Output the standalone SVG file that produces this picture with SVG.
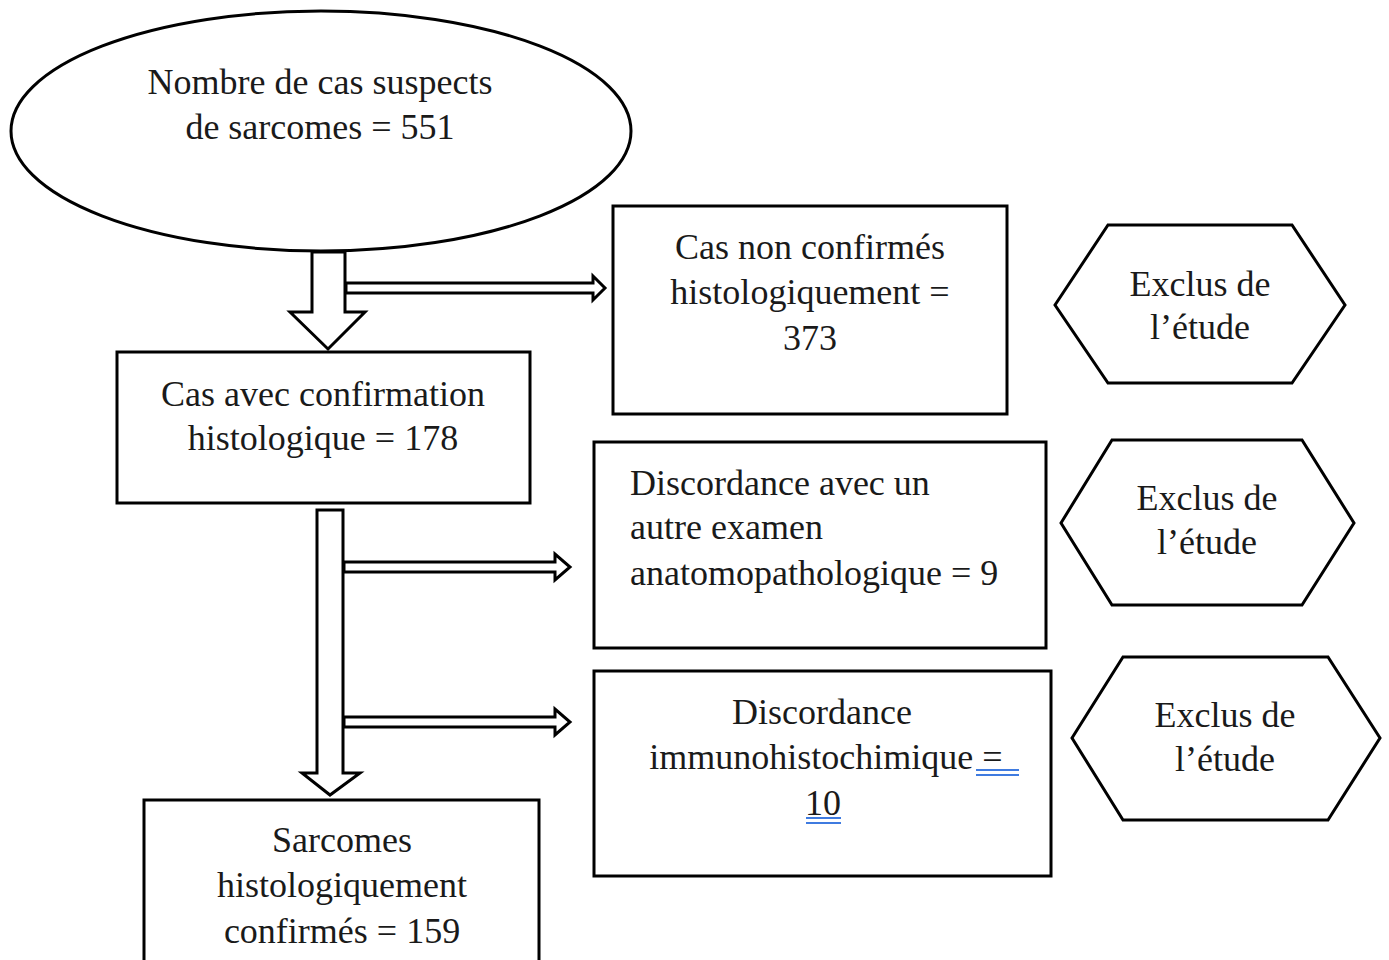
<svg xmlns="http://www.w3.org/2000/svg" width="1389" height="960" viewBox="0 0 1389 960">
<style>
.shape{fill:#fff;stroke:#000;stroke-width:3}
.arr{fill:#fff;stroke:#000;stroke-width:3;stroke-linejoin:miter}
text{font-family:"Liberation Serif","Times New Roman",serif;font-size:36px;fill:#1a1a1a}
.c{text-anchor:middle}
.ul{stroke:#3f7be0;stroke-width:2}
</style>
<rect width="1389" height="960" fill="#fff"/>
<g id="connectors">
<polygon class="arr" points="312,252 345,252 345,312 365,312 328,349 290,312 312,312"/>
<polygon class="arr" points="346,283 593,283 593,276 605,288 593,300 593,293 346,293"/>
<polygon class="arr" points="317,510 343,510 343,773 360,773 330,795 302,773 317,773"/>
<polygon class="arr" points="344,562 555,562 555,554 570,567 555,580 555,572 344,572"/>
<polygon class="arr" points="344,717 555,717 555,709 570,722 555,735 555,727 344,727"/>
</g>
<g id="n_suspects">
<ellipse class="shape" cx="321" cy="131" rx="310" ry="120"/>
<text class="c" x="320" y="94">Nombre de cas suspects</text>
<text class="c" x="320" y="139">de sarcomes = 551</text>
</g>
<g id="n_confirmation">
<rect class="shape" x="117" y="352" width="413" height="151"/>
<text class="c" x="323" y="406">Cas avec confirmation</text>
<text class="c" x="323" y="450">histologique = 178</text>
</g>
<g id="n_nonconfirmes">
<rect class="shape" x="613" y="206" width="394" height="208"/>
<text class="c" x="810" y="259">Cas non confirmés</text>
<text class="c" x="810" y="304">histologiquement =</text>
<text class="c" x="810" y="350">373</text>
</g>
<g id="n_exclus1">
<polygon class="shape" points="1055,305 1108,225 1292,225 1345,305 1292,383 1108,383"/>
<text class="c" x="1200" y="296">Exclus de</text>
<text class="c" x="1200" y="339">l’étude</text>
</g>
<g id="n_discordance_anapath">
<rect class="shape" x="594" y="442" width="452" height="206"/>
<text x="630" y="495">Discordance avec un</text>
<text x="630" y="539">autre examen</text>
<text x="630" y="585">anatomopathologique = 9</text>
</g>
<g id="n_exclus2">
<polygon class="shape" points="1061,523 1112,440 1302,440 1354,523 1302,605 1112,605"/>
<text class="c" x="1207" y="510">Exclus de</text>
<text class="c" x="1207" y="554">l’étude</text>
</g>
<g id="n_discordance_ihc">
<rect class="shape" x="594" y="671" width="457" height="205"/>
<text class="c" x="822" y="724">Discordance</text>
<text class="c" x="826" y="769">immunohistochimique =</text>
<text class="c" x="823" y="815">10</text>
<line class="ul" x1="976" y1="770" x2="1019" y2="770"/>
<line class="ul" x1="976" y1="775" x2="1019" y2="775"/>
<line class="ul" x1="806" y1="818" x2="841" y2="818"/>
<line class="ul" x1="806" y1="823" x2="841" y2="823"/>
</g>
<g id="n_exclus3">
<polygon class="shape" points="1072,738 1123,657 1328,657 1380,738 1328,820 1123,820"/>
<text class="c" x="1225" y="727">Exclus de</text>
<text class="c" x="1225" y="771">l’étude</text>
</g>
<g id="n_sarcomes">
<rect class="shape" x="144" y="800" width="395" height="180"/>
<text class="c" x="342" y="852">Sarcomes</text>
<text class="c" x="342" y="897">histologiquement</text>
<text class="c" x="342" y="943">confirmés = 159</text>
</g>
</svg>
